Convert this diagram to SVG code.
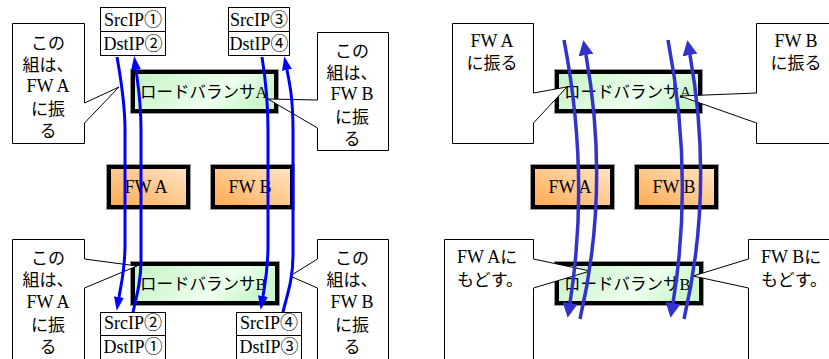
<svg xmlns="http://www.w3.org/2000/svg" width="829" height="359" viewBox="0 0 829 359">
<defs>
<linearGradient id="gLB" x1="0" y1="0" x2="1" y2="0.3">
<stop offset="0" stop-color="#C2F2C2"/>
<stop offset="0.7" stop-color="#EEFFEE"/>
<stop offset="1" stop-color="#CCF7CC"/>
</linearGradient>
<linearGradient id="gFW" x1="0" y1="1" x2="1" y2="0">
<stop offset="0" stop-color="#FFA94F"/>
<stop offset="1" stop-color="#FFE6C8"/>
</linearGradient>
<marker id="hL" viewBox="0 -6 14 12" refX="0" refY="0" markerWidth="14" markerHeight="12" markerUnits="userSpaceOnUse" orient="auto">
<path d="M0,-5 L14,0 L0,5 Z" fill="#0000FF"/>
</marker>
<marker id="hR" viewBox="0 -8 16 16" refX="0" refY="0" markerWidth="16" markerHeight="16" markerUnits="userSpaceOnUse" orient="auto">
<path d="M0,-7.5 L15,0 L0,7.5 Z" fill="#3333CC"/>
</marker>
</defs>
<style>
text{font-family:"Liberation Serif","Noto Sans CJK JP",serif;fill:#000}
.lb .bg{fill:url(#gLB)}
.fw .bg{fill:url(#gFW)}
.bd{fill:none;stroke:#000;stroke-width:4}
.sh{fill:none;stroke:#999;stroke-width:1}
.lbt{font-size:16.5px}
.fwt{font-size:18px;text-anchor:middle}
.ip rect,.ip line{fill:#fff;stroke:#000;stroke-width:1}
.ipt{font-size:18px;text-anchor:middle}
.co polygon{fill:#fff;stroke:#000;stroke-width:1}
.ct{font-size:17px;text-anchor:middle}
.cl{font-size:18px}
.ctl{font-size:17px}
.aL{fill:none;stroke:#0000FF;stroke-width:3;marker-end:url(#hL)}
.aR{fill:none;stroke:#3333CC;stroke-width:3.5;marker-end:url(#hR)}
</style>
<rect x="0" y="0" width="829" height="359" fill="#fff"/>

<!-- LEFT PANEL -->
<g id="lbA-left" class="lb">
<rect class="bg" x="133" y="72" width="143" height="39"/>
<rect class="sh" x="130.5" y="69.5" width="148" height="44"/>
<rect class="bd" x="133" y="72" width="143" height="39"/>
<text class="lbt" x="140" y="98">ロードバランサA</text>
</g>
<g id="lbB-left" class="lb">
<rect class="bg" x="133" y="264" width="144" height="39"/>
<rect class="sh" x="130.5" y="261.5" width="149" height="44"/>
<rect class="bd" x="133" y="264" width="144" height="39"/>
<text class="lbt" x="140" y="290">ロードバランサB</text>
</g>
<g id="fwA-left" class="fw">
<rect class="bg" x="109" y="167" width="79" height="40"/>
<rect class="sh" x="106.5" y="164.5" width="84" height="45"/>
<rect class="bd" x="109" y="167" width="79" height="40"/>
<text class="fwt" x="146" y="193">FW A</text>
</g>
<g id="fwB-left" class="fw">
<rect class="bg" x="213" y="167" width="79" height="40"/>
<rect class="sh" x="210.5" y="164.5" width="84" height="45"/>
<rect class="bd" x="213" y="167" width="79" height="40"/>
<text class="fwt" x="250" y="193">FW B</text>
</g>

<g id="ip-top-1" class="ip">
<rect x="100.5" y="7.5" width="65" height="48"/>
<line x1="100.5" y1="31.5" x2="165.5" y2="31.5"/>
<text class="ipt" x="133" y="26">SrcIP①</text>
<text class="ipt" x="133" y="50">DstIP②</text>
</g>
<g id="ip-top-2" class="ip">
<rect x="228.5" y="7.5" width="61" height="48"/>
<line x1="228.5" y1="31.5" x2="289.5" y2="31.5"/>
<text class="ipt" x="259" y="26">SrcIP③</text>
<text class="ipt" x="259" y="50">DstIP④</text>
</g>
<g id="ip-bot-1" class="ip">
<rect x="100.5" y="312.5" width="65" height="50"/>
<line x1="100.5" y1="335.5" x2="165.5" y2="335.5"/>
<text class="ipt" x="133" y="329">SrcIP②</text>
<text class="ipt" x="133" y="353">DstIP①</text>
</g>
<g id="ip-bot-2" class="ip">
<rect x="236.5" y="312.5" width="65" height="50"/>
<line x1="236.5" y1="335.5" x2="301.5" y2="335.5"/>
<text class="ipt" x="269" y="329">SrcIP④</text>
<text class="ipt" x="269" y="353">DstIP③</text>
</g>

<g id="callout-left-tl" class="co">
<polygon points="12.5,23.5 84.5,23.5 84.5,103 119,87 84.5,123 84.5,143.5 12.5,143.5"/>
<text class="ct" x="48" y="49">この</text>
<text class="ct" x="48" y="71">組は、</text>
<text class="ct cl" x="48" y="92">FW A</text>
<text class="ct" x="48" y="115">に振</text>
<text class="ct" x="48" y="137">る</text>
</g>
<g id="callout-left-tr" class="co">
<polygon points="317.5,32.5 388.5,32.5 388.5,150.5 317.5,150.5 317.5,128 268,99 317.5,100"/>
<text class="ct" x="352" y="57">この</text>
<text class="ct" x="352" y="79">組は、</text>
<text class="ct cl" x="352" y="100">FW B</text>
<text class="ct" x="352" y="123">に振</text>
<text class="ct" x="352" y="145">る</text>
</g>
<g id="callout-left-bl" class="co">
<polygon points="12.5,239.5 84.5,239.5 84.5,259 137,266 84.5,288 84.5,370 12.5,370"/>
<text class="ct" x="48" y="264">この</text>
<text class="ct" x="48" y="286">組は、</text>
<text class="ct cl" x="48" y="308">FW A</text>
<text class="ct" x="48" y="331">に振</text>
<text class="ct" x="48" y="353">る</text>
</g>
<g id="callout-left-br" class="co">
<polygon points="317.5,239.5 388.5,239.5 388.5,370 317.5,370 317.5,288 290,276 317.5,259"/>
<text class="ct" x="352" y="264">この</text>
<text class="ct" x="352" y="286">組は、</text>
<text class="ct cl" x="352" y="308">FW B</text>
<text class="ct" x="352" y="331">に振</text>
<text class="ct" x="352" y="353">る</text>
</g>

<!-- RIGHT PANEL -->
<g id="lbA-right" class="lb">
<rect class="bg" x="557" y="72" width="143" height="39"/>
<rect class="sh" x="554.5" y="69.5" width="148" height="44"/>
<rect class="bd" x="557" y="72" width="143" height="39"/>
<text class="lbt" x="564" y="98">ロードバランサA</text>
</g>
<g id="lbB-right" class="lb">
<rect class="bg" x="557" y="264" width="144" height="39"/>
<rect class="sh" x="554.5" y="261.5" width="149" height="44"/>
<rect class="bd" x="557" y="264" width="144" height="39"/>
<text class="lbt" x="564" y="290">ロードバランサB</text>
</g>
<g id="fwA-right" class="fw">
<rect class="bg" x="533" y="167" width="79" height="40"/>
<rect class="sh" x="530.5" y="164.5" width="84" height="45"/>
<rect class="bd" x="533" y="167" width="79" height="40"/>
<text class="fwt" x="570" y="193">FW A</text>
</g>
<g id="fwB-right" class="fw">
<rect class="bg" x="637" y="167" width="79" height="40"/>
<rect class="sh" x="634.5" y="164.5" width="84" height="45"/>
<rect class="bd" x="637" y="167" width="79" height="40"/>
<text class="fwt" x="674" y="193">FW B</text>
</g>

<g id="callout-right-tl" class="co">
<polygon points="452.5,23.5 533.5,23.5 533.5,93 567,87 533.5,123 533.5,143.5 452.5,143.5"/>
<text class="ct cl" x="492" y="47">FW A</text>
<text class="ct" x="492" y="69">に振る</text>
</g>
<g id="callout-right-tr" class="co">
<polygon points="756.5,23.5 840,23.5 840,143.5 756.5,143.5 756.5,123 680,96 756.5,93"/>
<text class="ct cl" x="796" y="47">FW B</text>
<text class="ct" x="796" y="69">に振る</text>
</g>
<g id="callout-right-bl" class="co">
<polygon points="444.5,239.5 533.5,239.5 533.5,259 590,271 533.5,288 533.5,370 444.5,370"/>
<text class="ctl" x="457" y="263"><tspan class="cl">FW A</tspan>に</text>
<text class="ctl" x="457" y="286">もどす。</text>
</g>
<g id="callout-right-br" class="co">
<polygon points="748.5,239.5 840,239.5 840,370 748.5,370 748.5,288 693,276 748.5,259"/>
<text class="ctl" x="761" y="263"><tspan class="cl">FW B</tspan>に</text>
<text class="ctl" x="761" y="286">もどす。</text>
</g>

<g id="connectors">
<path class="aL" d="M117,57 C122,85 125,105 125,130 L125,245 C125,270 121,285 119,297"/>
<path class="aL" d="M133,312 C137,295 141,280 141,260 L141,130 C141,100 138,85 136,70"/>
<path class="aL" d="M262,57 C266,82 268,102 268,130 L268,245 C268,270 265,284 263,296"/>
<path class="aL" d="M283,312 C287,295 293,280 293,255 L293,130 C293,100 290,85 287,70"/>
<path class="aR" d="M564,40 Q590,175 570,303"/>
<path class="aR" d="M580,319 Q610,190 586,55"/>
<path class="aR" d="M668,40 Q694,175 673,303"/>
<path class="aR" d="M684,319 Q714,190 690,55"/>
</g>
</svg>
